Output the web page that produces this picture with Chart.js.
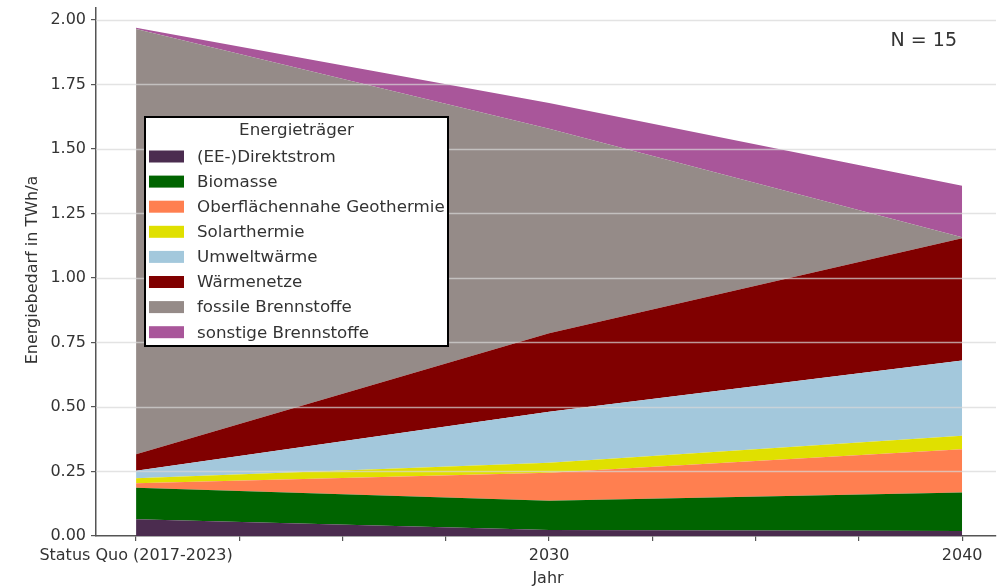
<!DOCTYPE html>
<html>
<head>
<meta charset="utf-8">
<script src="https://cdn.jsdelivr.net/npm/chart.js@4.4.1/dist/chart.umd.min.js"></script>
<style>
  html, body { margin: 0; padding: 0; background: #ffffff; }
  #wrap { width: 1002px; height: 586px; position: relative; }
</style>
</head>
<body>
<div id="wrap"><canvas id="c" width="1002" height="586"></canvas></div>
<script>
// ---- data ----
const categories = ['Status Quo (2017-2023)', '2030', '2040'];
const seriesNames = ['(EE-)Direktstrom', 'Biomasse', 'Oberflächennahe Geothermie', 'Solarthermie',
                     'Umweltwärme', 'Wärmenetze', 'fossile Brennstoffe', 'sonstige Brennstoffe'];
const direktstrom = [0.065, 0.023, 0.019];
const biomasse    = [0.122, 0.114, 0.150];
const geothermie  = [0.017, 0.108, 0.167];
const solarthermie= [0.020, 0.039, 0.053];
const umweltwaerme= [0.029, 0.198, 0.291];
const waermenetze = [0.064, 0.304, 0.474];
const fossil      = [1.648, 0.792, 0.004];
const sonstige    = [0.005, 0.100, 0.200];
const yTickValues = [0, 0.25, 0.5, 0.75, 1.0, 1.25, 1.5, 1.75, 2.0];
const xTickValues = [0, 0.25, 0.5, 0.75, 1, 1.25, 1.5, 1.75, 2];
const legendTitle = 'Energieträger';
const annotationText = 'N = 15';
const xTitle = 'Jahr';
const yTitle = 'Energiebedarf in TWh/a';

// ---- styles ----
const colors = ['#4b2c4f', '#006400', '#ff7f50', '#e0e000', '#a3c8dc', '#800000', '#958b88', '#a9569a'];
const FONT = '"DejaVu Sans", sans-serif';
const TXT = '#333333';

const allSeries = [direktstrom, biomasse, geothermie, solarthermie, umweltwaerme, waermenetze, fossil, sonstige];
const datasets = allSeries.map((arr, k) => ({
  label: seriesNames[k],
  data: categories.map((c, i) => ({ x: i, y: arr[i] })),
  backgroundColor: colors[k],
  borderColor: colors[k],
  borderWidth: 0,
  pointRadius: 0,
  tension: 0,
  fill: k === 0 ? 'origin' : '-1'
}));

const overlay = {
  id: 'overlay',
  afterDatasetsDraw(chart) {
    const { ctx, chartArea, scales } = chart;
    ctx.save();
    ctx.strokeStyle = 'rgba(215,215,215,0.7)';
    ctx.lineWidth = 1.3;
    yTickValues.forEach(v => {
      if (v === 0) return;
      const y = Math.round(scales.y.getPixelForValue(v)) + 0.5;
      ctx.beginPath();
      ctx.moveTo(chartArea.left, y);
      ctx.lineTo(chartArea.right, y);
      ctx.stroke();
    });
    ctx.restore();
  },
  afterDraw(chart) {
    const { ctx } = chart;
    ctx.save();
    const bx = 145, by = 117, bw = 303, bh = 229;
    ctx.fillStyle = '#ffffff';
    ctx.fillRect(bx, by, bw, bh);
    ctx.strokeStyle = '#000000';
    ctx.lineWidth = 2;
    ctx.strokeRect(bx, by, bw, bh);
    ctx.fillStyle = TXT;
    ctx.font = '16.7px ' + FONT;
    ctx.textBaseline = 'middle';
    ctx.textAlign = 'center';
    ctx.fillText(legendTitle, bx + bw / 2, 131);
    ctx.textAlign = 'left';
    seriesNames.forEach((name, k) => {
      const cy = 156.5 + k * 25.1;
      ctx.fillStyle = colors[k];
      ctx.fillRect(149, cy - 6, 35, 12);
      ctx.fillStyle = TXT;
      ctx.fillText(name, 197, cy + 1);
    });
    ctx.font = '19px ' + FONT;
    ctx.textAlign = 'right';
    ctx.fillText(annotationText, 957, 41);
    ctx.font = '16px ' + FONT;
    ctx.textAlign = 'center';
    ctx.fillText(xTitle, 548, 579);
    ctx.translate(33, 270);
    ctx.rotate(-Math.PI / 2);
    ctx.fillText(yTitle, 0, 0);
    ctx.restore();
  }
};

new Chart(document.getElementById('c'), {
  type: 'line',
  data: { datasets },
  plugins: [overlay],
  options: {
    responsive: false,
    animation: false,
    layout: { padding: { left: 0, top: 8, right: 6, bottom: 0 } },
    plugins: { legend: { display: false }, title: { display: false }, tooltip: { enabled: false } },
    scales: {
      x: {
        type: 'linear',
        min: -0.097,
        max: 2.082,
        afterBuildTicks: s => { s.ticks = xTickValues.map(v => ({ value: v })); },
        afterFit: s => { s.height = 50; s.paddingLeft = 0; s.paddingRight = 0; },
        ticks: {
          autoSkip: false,
          maxRotation: 0,
          padding: 5,
          color: TXT,
          font: { family: FONT, size: 16 },
          callback: v => Number.isInteger(v) ? categories[v] : ''
        },
        grid: { drawOnChartArea: false, drawTicks: true, tickLength: 5, color: '#555555', lineWidth: 1.2 },
        border: { display: true, color: '#555555', width: 1.5 }
      },
      y: {
        stacked: true,
        min: 0,
        max: 2.0465,
        afterBuildTicks: s => { s.ticks = yTickValues.map(v => ({ value: v })); },
        afterFit: s => { s.width = 96; s.paddingTop = 0; s.paddingBottom = 0; },
        ticks: {
          padding: 5,
          color: TXT,
          font: { family: FONT, size: 16 },
          callback: v => Number(v).toFixed(2)
        },
        grid: { drawOnChartArea: false, drawTicks: true, tickLength: 5, color: '#555555', lineWidth: 1.2 },
        border: { display: true, color: '#555555', width: 1.5 }
      }
    }
  }
});
</script>
</body>
</html>
